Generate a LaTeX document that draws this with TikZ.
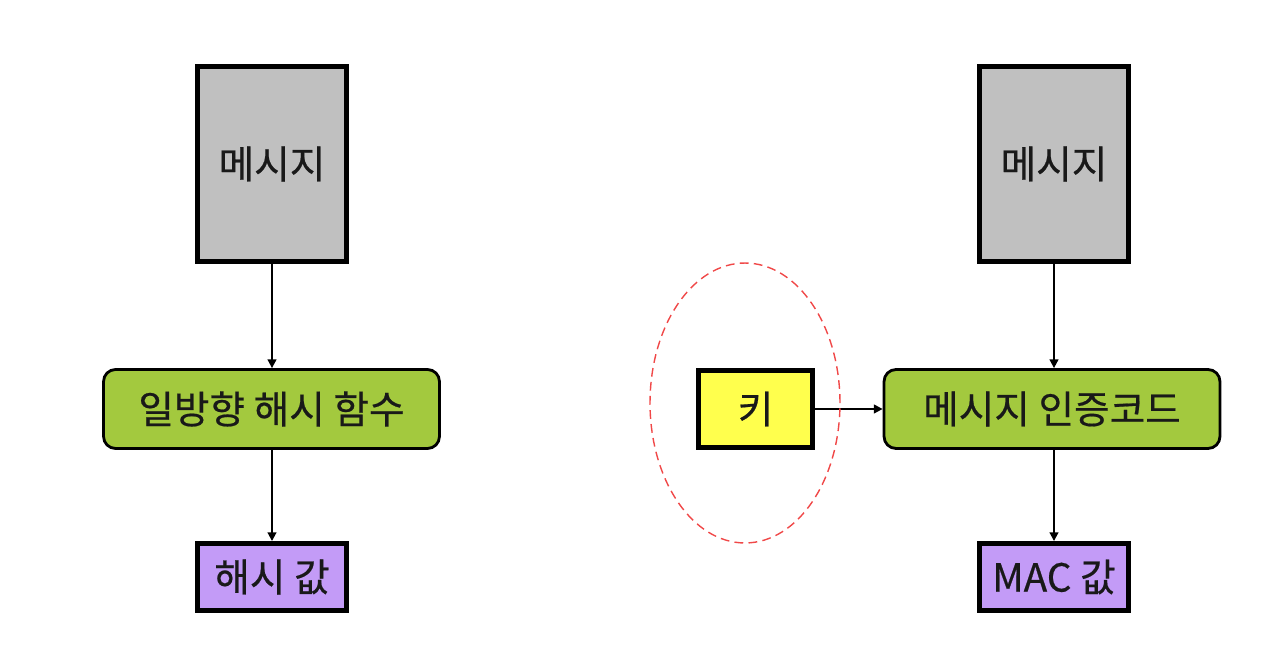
\documentclass[tikz,border=0pt]{standalone}
\usepackage{fontspec}
\newfontfamily\kor[FakeBold=0.5]{Noto Sans CJK KR}
\usetikzlibrary{arrows.meta}
\definecolor{msggray}{HTML}{C0C0C0}
\definecolor{fngreen}{HTML}{A3C93E}
\definecolor{valpurple}{HTML}{C39BF7}
\definecolor{keyyellow}{HTML}{FFFF4D}
\definecolor{dashred}{HTML}{F04848}
\tikzset{
  box/.style={draw,text=black!90,font=\kor\fontsize{22}{26}\selectfont},
  msgbox/.style={box,line width=2.8pt,fill=msggray,minimum width=2.98cm,minimum height=3.9cm},
  fnbox/.style={box,line width=1.6pt,fill=fngreen,rounded corners=0.24cm,minimum width=6.72cm,minimum height=1.58cm},
  valbox/.style={box,line width=2.8pt,fill=valpurple,minimum width=2.98cm,minimum height=1.34cm},
  keybox/.style={box,line width=2.8pt,fill=keyyellow,minimum width=2.28cm,minimum height=1.54cm},
  flow/.style={line width=1.1pt,-{Triangle[length=5pt,width=5pt]}}
}
\begin{document}
\begin{tikzpicture}[x=0.02cm,y=-0.02cm]
    \useasboundingbox (0,0) rectangle (1272,648);
    % one-way hash
    \node [msgbox] (msgL) at (272,164) {메시지};
    \node [fnbox] (hashfn) at (271.5,409) {일방향 해시 함수};
    \node [valbox] (hashval) at (272,577) {해시 값};
    \draw [flow] (msgL.south) -- (msgL.south |- hashfn.north);
    \draw [flow] (hashfn.south -| hashval.north) -- (hashval.north);
    % MAC
    \node [msgbox] (msgR) at (1054,164) {메시지};
    \node [fnbox] (macfn) at (1052,409) {메시지 인증코드};
    \node [valbox] (macval) at (1054,577) {MAC 값};
    \node [keybox] (key) at (755.5,409) {키};
    \draw [flow] (msgR.south) -- (msgR.south |- macfn.north);
    \draw [flow] (macfn.south -| macval.north) -- (macval.north);
    \draw [flow] (key) -- (macfn);
    \draw [dashred,line width=0.8pt,dash pattern=on 5pt off 3pt] (745,403) ellipse [x radius=1.9cm,y radius=2.8cm];
\end{tikzpicture}
\end{document}
